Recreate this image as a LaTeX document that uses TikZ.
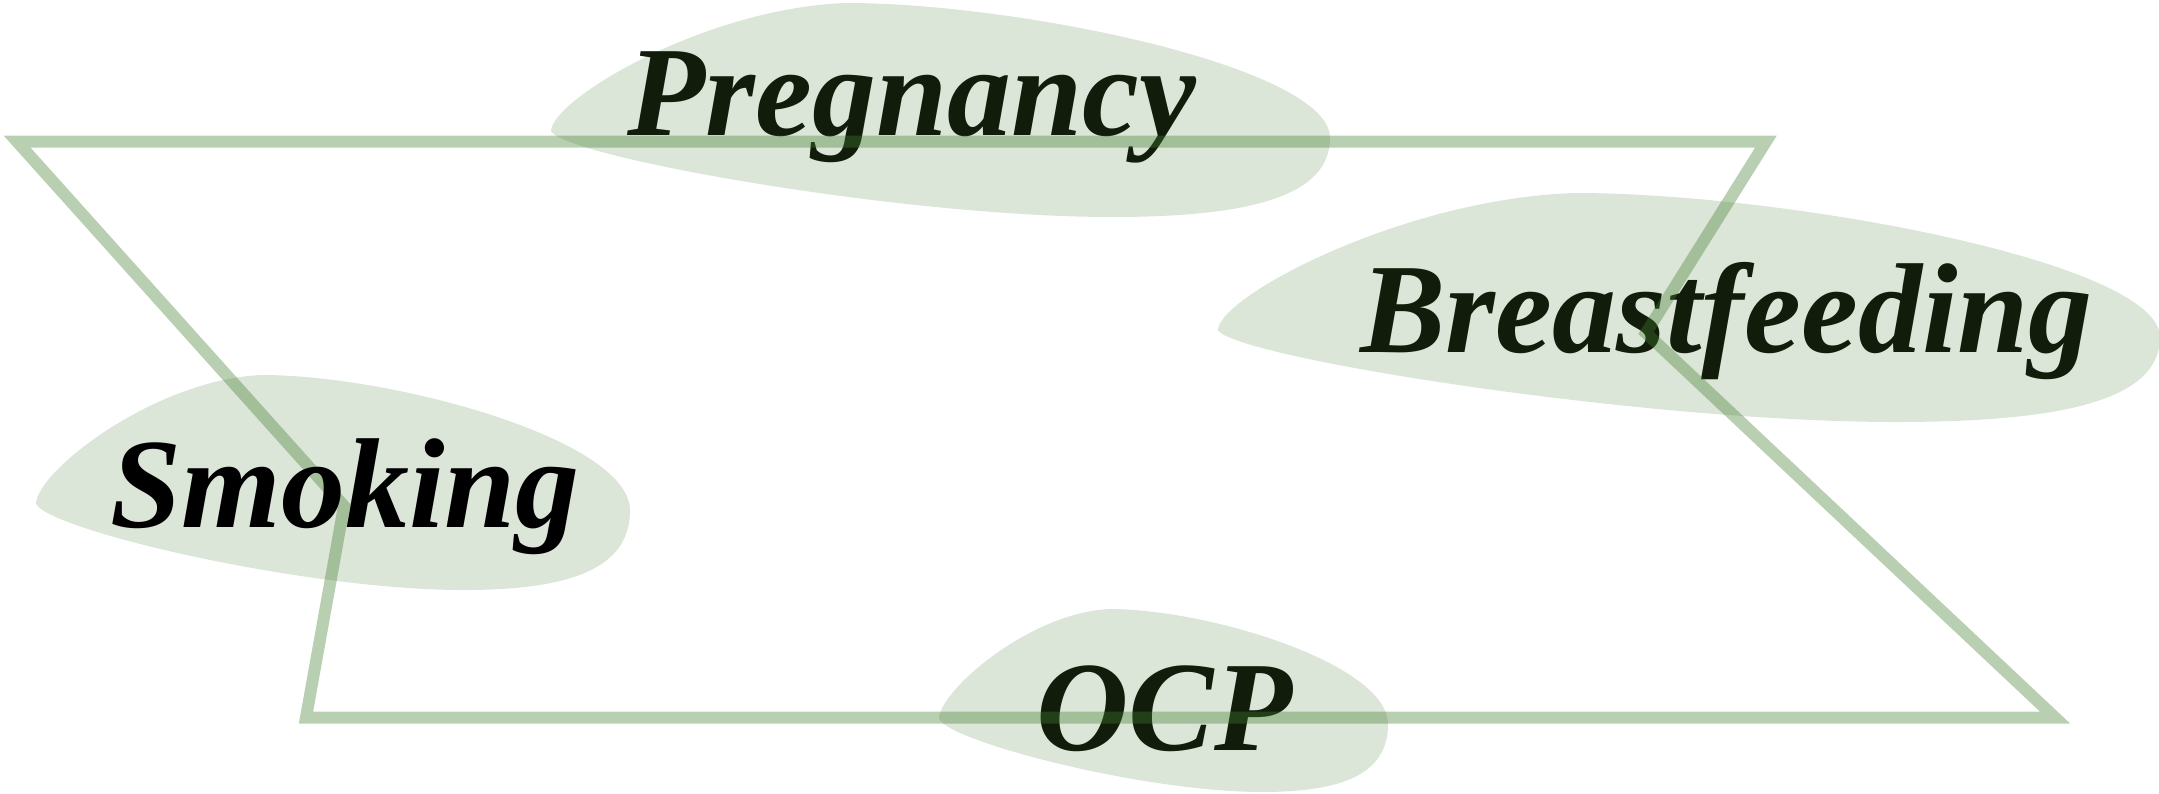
\documentclass[tikz,border=0pt]{standalone}
\usepackage{fontspec}
\setmainfont{Liberation Serif}
\definecolor{blobcol}{RGB}{220,230,216}
\definecolor{linecol}{RGB}{66,125,47}
\definecolor{txtcol}{RGB}{17,28,10}
\newcommand\myblob[4]{%
  \begin{scope}[shift={(#1,#2)},xscale=#3,yscale=#4]
    \fill[blobfill] (0,0.6) .. controls (0,0.45) and (0.2,0.02) .. (0.38,0)
      .. controls (0.6,0) and (1,0.3) .. (1,0.63)
      .. controls (1,0.9) and (0.9,1) .. (0.72,1)
      .. controls (0.45,1) and (0.02,0.72) .. cycle;
  \end{scope}}
\tikzset{
  blobfill/.style={fill=blobcol},
  poly/.style={draw=linecol, draw opacity=0.37, line width=6pt, line join=miter, miter limit=20},
  lab/.style={anchor=base west, inner sep=0pt, font=\fontsize{64}{70}\selectfont\bfseries\itshape, text=txtcol},
}
\begin{document}
\begin{tikzpicture}[x=0.5pt,y=-0.5pt]
\useasboundingbox (0,0) rectangle (2159,793);
% blobs
\myblob{551}{3}{779}{214}
\myblob{1218}{193}{942}{229}
\myblob{36}{375}{594}{215}
\myblob{939}{609}{449}{183}
% labels under the outline
\node[lab] (preg) at (627,135) {Pregnancy};
\node[lab] (breast) at (1360,352) {Breastfeeding};
\node[lab] (ocp) at (1036,750) {OCP};
% outline
\coordinate (A) at (17,141.5);
\coordinate (B) at (1766,141.5);
\coordinate (C) at (1646,333);
\coordinate (D) at (2055,717.5);
\coordinate (E) at (306,717.5);
\coordinate (F) at (344,506);
\draw[poly] (A) -- (B) -- (C) -- (D) -- (E) -- (F) -- cycle;
% label above the outline
\node[lab, text=black] (smok) at (110,527) {Smoking};
\end{tikzpicture}
\end{document}
